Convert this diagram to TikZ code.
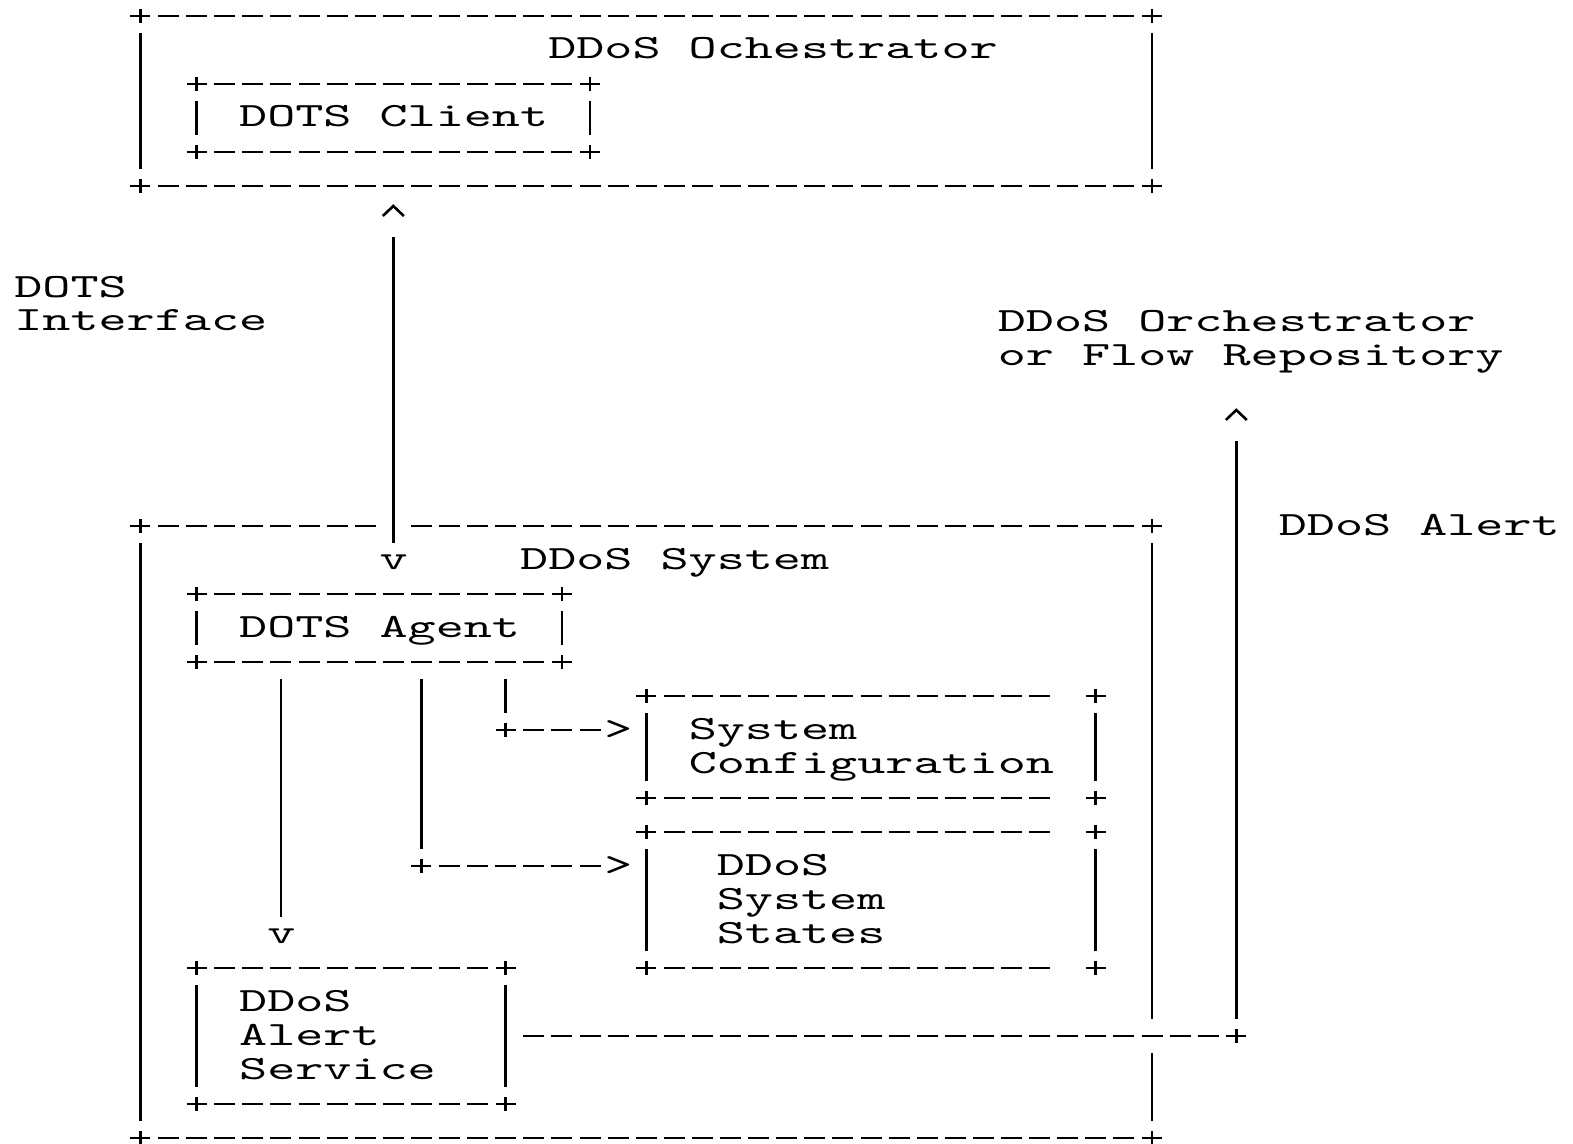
\documentclass[tikz,border=0pt]{standalone}
\usepackage{fontspec}
\newfontfamily\asciifont[Extension=.otf,FakeStretch=1.574]{lmmono10-regular}
\usetikzlibrary{fit}
% grid: cell centre of column c / row r, in pixels
\newcommand\CX[1]{(28+28.1*(#1))}
\newcommand\RY[1]{(14+34*(#1))}
\tikzset{
  asc/.style={line width=1.4pt, line cap=butt},
  ascdash/.style={asc, dash pattern=on 10.5pt off 3.55pt},
  txt/.style={font=\asciifont\fontsize{17pt}{17pt}\selectfont, inner sep=0pt, anchor=base west, align=left},
  boxarea/.style={inner sep=0pt, draw=none}
}
% row, first col, last col
\newcommand\aHd[3]{\draw[ascdash] ({\CX{#2}-10.5},{\RY{#1}+2}) -- ({\CX{#3}+10.5},{\RY{#1}+2});}
% col, first row, last row
\newcommand\aVb[3]{\draw[asc] ({\CX{#1}},{\RY{#2}-15}) -- ({\CX{#1}},{\RY{#3}+19});}
% col, row
\newcommand\aPlus[2]{\draw[asc] ({\CX{#1}-10},{\RY{#2}+2}) -- ({\CX{#1}+10},{\RY{#2}+2}) ({\CX{#1}},{\RY{#2}-5}) -- ({\CX{#1}},{\RY{#2}+9});}
\newcommand\aCaret[2]{\draw[asc,line width=1.3pt,line join=miter] ({\CX{#1}-10.5},{\RY{#2}-2}) -- ({\CX{#1}},{\RY{#2}-12}) -- ({\CX{#1}+10.5},{\RY{#2}-2});}
% name, col, row of the LAST line, text (a multi-line node sits on its last baseline)
\newcommand\aTxt[4]{\node[txt] (#1) at ({\CX{#2}-14.05},{\RY{#3}+11}) {#4};}
% name, c1, r1, c2, r2 : named box area with its four corner pluses
\newcommand\aBox[5]{%
  \coordinate (#1-nw) at ({\CX{#2}},{\RY{#3}+2});
  \coordinate (#1-se) at ({\CX{#4}},{\RY{#5}+2});
  \node[boxarea, fit=(#1-nw)(#1-se)] (#1) {};
  \aPlus{#2}{#3}\aPlus{#4}{#3}\aPlus{#2}{#5}\aPlus{#4}{#5}}
% connector: name, col, first row, last row (vertical run)
\newcommand\aConnV[4]{%
  \coordinate (#1-a) at ({\CX{#2}},{\RY{#3}-15});
  \coordinate (#1-b) at ({\CX{#2}},{\RY{#4}+19});
  \draw[asc] (#1-a) -- (#1-b);}
% connector: name, row, first col, last col (horizontal dashed run)
\newcommand\aConnH[4]{%
  \coordinate (#1-a) at ({\CX{#3}-10.5},{\RY{#2}+2});
  \coordinate (#1-b) at ({\CX{#4}+10.5},{\RY{#2}+2});
  \draw[ascdash] (#1-a) -- (#1-b);}
\begin{document}
\begin{tikzpicture}[x=0.5pt,y=-0.5pt]
\fill[white] (0,0) rectangle (1573,1144);
\useasboundingbox (0,0) rectangle (1573,1144);

% ---- DDoS Orchestrator box
\aBox{orch}{4}{0}{40}{5}
\aHd{0}{5}{39} \aHd{5}{5}{39}
\aVb{4}{1}{4} \aVb{40}{1}{4}
\aTxt{orchtext}{19}{1}{DDoS Ochestrator}

% ---- DOTS Client box
\aBox{client}{6}{2}{20}{4}
\aHd{2}{7}{19} \aHd{4}{7}{19}
\aVb{6}{3}{3} \aVb{20}{3}{3}
\aTxt{clienttext}{8}{3}{DOTS Client}

% ---- DDoS System box
\aBox{sys}{4}{15}{40}{33}
\aHd{15}{5}{12} \aHd{15}{14}{39} \aHd{33}{5}{39}
\aVb{4}{16}{32} \aVb{40}{16}{29} \aVb{40}{31}{32}
\aTxt{systext}{18}{16}{DDoS System}

% ---- DOTS Agent box
\aBox{agent}{6}{17}{19}{19}
\aHd{17}{7}{18} \aHd{19}{7}{18}
\aVb{6}{18}{18} \aVb{19}{18}{18}
\aTxt{agenttext}{8}{18}{DOTS Agent}

% ---- System Configuration box
\aBox{conf}{22}{20}{38}{23}
\aHd{20}{23}{36} \aHd{23}{23}{36}
\aVb{22}{21}{22} \aVb{38}{21}{22}
\aTxt{conftext}{24}{22}{System\\Configuration}

% ---- DDoS System States box
\aBox{states}{22}{24}{38}{28}
\aHd{24}{23}{36} \aHd{28}{23}{36}
\aVb{22}{25}{27} \aVb{38}{25}{27}
\aTxt{statestext}{25}{27}{DDoS\\System\\States}

% ---- DDoS Alert Service box
\aBox{alert}{6}{28}{17}{32}
\aHd{28}{7}{16} \aHd{32}{7}{16}
\aVb{6}{29}{31} \aVb{17}{29}{31}
\aTxt{alerttext}{8}{31}{DDoS\\Alert\\Service}

% ---- outside labels
\aTxt{iflabel}{0}{9}{DOTS\\Interface}
\aTxt{repolabel}{35}{10}{DDoS Orchestrator\\or Flow Repository}
\aTxt{alertlabel}{45}{15}{DDoS Alert}

% ---- DOTS interface: client <-> agent
\aCaret{13}{6}
\aConnV{clientagent}{13}{7}{15}
\aTxt{tipagent}{13}{16}{v}

% ---- agent -> alert service
\aConnV{agentalert}{9}{20}{26}
\aTxt{tipalert}{9}{27}{v}

% ---- agent -> system states
\aConnV{agentstatesv}{14}{20}{24}
\aPlus{14}{25}
\aConnH{agentstatesh}{25}{15}{20}
\aTxt{tipstates}{21}{25}{>}

% ---- agent -> system configuration
\aConnV{agentconfv}{17}{20}{20}
\aPlus{17}{21}
\aConnH{agentconfh}{21}{18}{20}
\aTxt{tipconf}{21}{21}{>}

% ---- alert service -> orchestrator / flow repository
\aConnH{alertrepoh}{30}{18}{42}
\aPlus{43}{30}
\aConnV{alertrepov}{43}{13}{29}
\aCaret{43}{12}
\end{tikzpicture}
\end{document}
